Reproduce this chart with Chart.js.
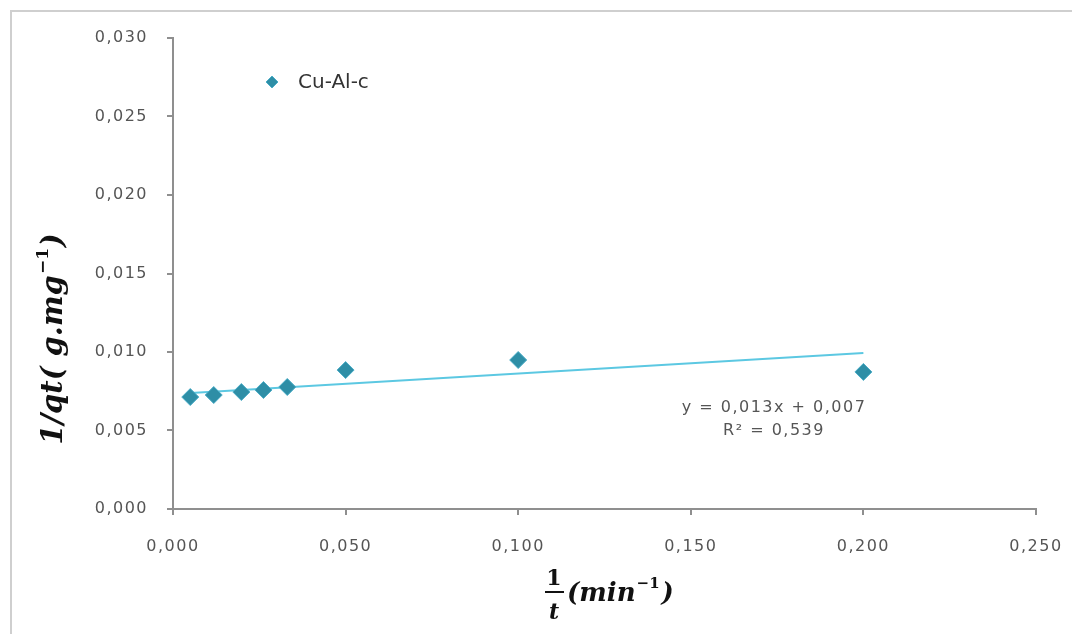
<!DOCTYPE html>
<html lang="pt-br">
<head>
  <meta charset="UTF-8">
  <title>Cu-Al-c</title>
  <style>
    body {
      margin: 0;
      padding: 0;
      background-color: #fff;
      width: 1072px;
      height: 634px;
      overflow: hidden;
      position: relative;
    }

    #moldura {
      position: absolute;
      left: 10px;
      top: 10px;
      width: 1100px;
      height: 700px;
      border-top: 2px solid #cfcfcf;
      border-left: 2px solid #cfcfcf;
    }

    #grafico {
      position: absolute;
      left: 0;
      top: 0;
    }
  </style>
  <script src="https://cdn.jsdelivr.net/npm/chart.js"></script>
</head>
<body>

  <div id="moldura"></div>
  <canvas id="grafico" width="1072" height="634"></canvas>

  <script>
    // dados
    const serieNome = 'Cu-Al-c';
    const inversoT = [0.005, 0.0118, 0.0198, 0.0262, 0.0331, 0.05, 0.1, 0.2];
    const inversoQt = [0.00713, 0.00726, 0.00745, 0.00758, 0.00777, 0.00885, 0.00949, 0.00873];

    // linha de tendencia (extremos)
    const tendenciaX = [0.004, 0.2];
    const tendenciaY = [0.00738, 0.00994];
    const equacao = ['y = 0,013x + 0,007', 'R² = 0,539'];

    const ticksX = [0, 0.05, 0.10, 0.15, 0.20, 0.25];
    const ticksY = [0, 0.005, 0.010, 0.015, 0.020, 0.025, 0.030];

    const corPonto = '#2e8ea6';
    const corBorda = '#4aacc6';
    const corTendencia = '#5cc8e2';
    const corEixo = '#8f8f8f';
    const corTexto = '#555555';

    const formatar = v => Number(v).toFixed(3).replace('.', ',');

    // desenha titulos, legenda e equacao
    const textosExtras = {
      id: 'textosExtras',
      beforeDraw(chart) {
        chart.ctx.letterSpacing = '1.5px';
      },
      afterDraw(chart) {
        const ctx = chart.ctx;
        ctx.save();
        ctx.letterSpacing = '0px';

        // legenda
        ctx.beginPath();
        ctx.moveTo(266, 82);
        ctx.lineTo(272, 76);
        ctx.lineTo(278, 82);
        ctx.lineTo(272, 88);
        ctx.closePath();
        ctx.fillStyle = corPonto;
        ctx.fill();
        ctx.strokeStyle = corBorda;
        ctx.lineWidth = 1;
        ctx.stroke();
        ctx.fillStyle = '#333';
        ctx.font = '20px "DejaVu Sans"';
        ctx.textBaseline = 'middle';
        ctx.textAlign = 'left';
        ctx.fillText(serieNome, 298, 83);

        // equacao da reta
        ctx.letterSpacing = '1.5px';
        ctx.fillStyle = corTexto;
        ctx.font = '16px "DejaVu Sans"';
        ctx.textAlign = 'center';
        ctx.fillText(equacao[0], 774, 408);
        ctx.fillText(equacao[1], 774, 431);
        ctx.letterSpacing = '0px';

        // titulo do eixo y
        ctx.fillStyle = '#111';
        ctx.save();
        ctx.translate(62, 340);
        ctx.rotate(-Math.PI / 2);
        ctx.textBaseline = 'alphabetic';
        ctx.textAlign = 'left';
        const fGrande = 'italic bold 29px "DejaVu Serif"';
        const fSup = 'bold 17px "DejaVu Serif"';
        ctx.font = fGrande;
        const a = '1/qt( g.mg';
        const wa = ctx.measureText(a).width;
        ctx.font = fSup;
        const s = '−1';
        const ws = ctx.measureText(s).width;
        ctx.font = fGrande;
        const wb = ctx.measureText(')').width;
        let px = -(wa + ws + wb) / 2;
        ctx.fillText(a, px, 0);
        px += wa;
        ctx.font = fSup;
        ctx.fillText(s, px + 1, -14);
        px += ws + 2;
        ctx.font = fGrande;
        ctx.fillText(')', px, 0);
        ctx.restore();

        // titulo do eixo x (fracao)
        ctx.textBaseline = 'alphabetic';
        ctx.textAlign = 'center';
        ctx.font = 'bold 22px "DejaVu Serif"';
        ctx.fillText('1', 554, 585);
        ctx.font = 'italic bold 22px "DejaVu Serif"';
        ctx.fillText('t', 554, 619);
        ctx.fillRect(545, 591, 19, 2);
        ctx.textAlign = 'left';
        ctx.font = 'italic bold 26px "DejaVu Serif"';
        ctx.fillText('(min', 567, 601);
        let xx = 567 + ctx.measureText('(min').width + 1;
        ctx.font = 'bold 15px "DejaVu Serif"';
        ctx.fillText('−1', xx, 588);
        xx += ctx.measureText('−1').width + 2;
        ctx.font = 'italic bold 26px "DejaVu Serif"';
        ctx.fillText(')', xx, 601);

        ctx.restore();
      }
    };

    const pontos = inversoT.map((x, i) => ({ x: x, y: inversoQt[i] }));
    const tendencia = tendenciaX.map((x, i) => ({ x: x, y: tendenciaY[i] }));

    new Chart(document.getElementById('grafico'), {
      type: 'scatter',
      data: {
        datasets: [{
          label: serieNome,
          data: pontos,
          pointStyle: 'rectRot',
          pointRadius: 8.5,
          backgroundColor: corPonto,
          borderColor: corBorda,
          borderWidth: 1
        }, {
          label: 'Linear',
          type: 'line',
          data: tendencia,
          showLine: true,
          pointRadius: 0,
          borderColor: corTendencia,
          borderWidth: 2,
          fill: false
        }]
      },
      options: {
        responsive: false,
        animation: false,
        layout: {
          padding: { left: 0, top: 38, right: 36, bottom: 0 }
        },
        plugins: {
          legend: { display: false },
          tooltip: { enabled: false }
        },
        scales: {
          x: {
            type: 'linear',
            min: 0,
            max: 0.25,
            afterBuildTicks: scale => { scale.ticks = ticksX.map(v => ({ value: v })); },
            afterFit: scale => {
              scale.height = 125;
              scale.paddingLeft = 0;
              scale.paddingRight = 0;
            },
            ticks: {
              callback: formatar,
              color: corTexto,
              font: { family: 'DejaVu Sans', size: 16 },
              padding: 22,
              maxRotation: 0
            },
            grid: {
              drawOnChartArea: false,
              tickLength: 6,
              color: corEixo,
              lineWidth: 2
            },
            border: { color: corEixo, width: 2 }
          },
          y: {
            min: 0,
            max: 0.03,
            afterBuildTicks: scale => { scale.ticks = ticksY.map(v => ({ value: v })); },
            afterFit: scale => { scale.width = 173; },
            ticks: {
              callback: formatar,
              color: corTexto,
              font: { family: 'DejaVu Sans', size: 16 },
              padding: 19
            },
            grid: {
              drawOnChartArea: false,
              tickLength: 6,
              color: corEixo,
              lineWidth: 2
            },
            border: { color: corEixo, width: 2 }
          }
        }
      },
      plugins: [textosExtras]
    });
  </script>
</body>
</html>
